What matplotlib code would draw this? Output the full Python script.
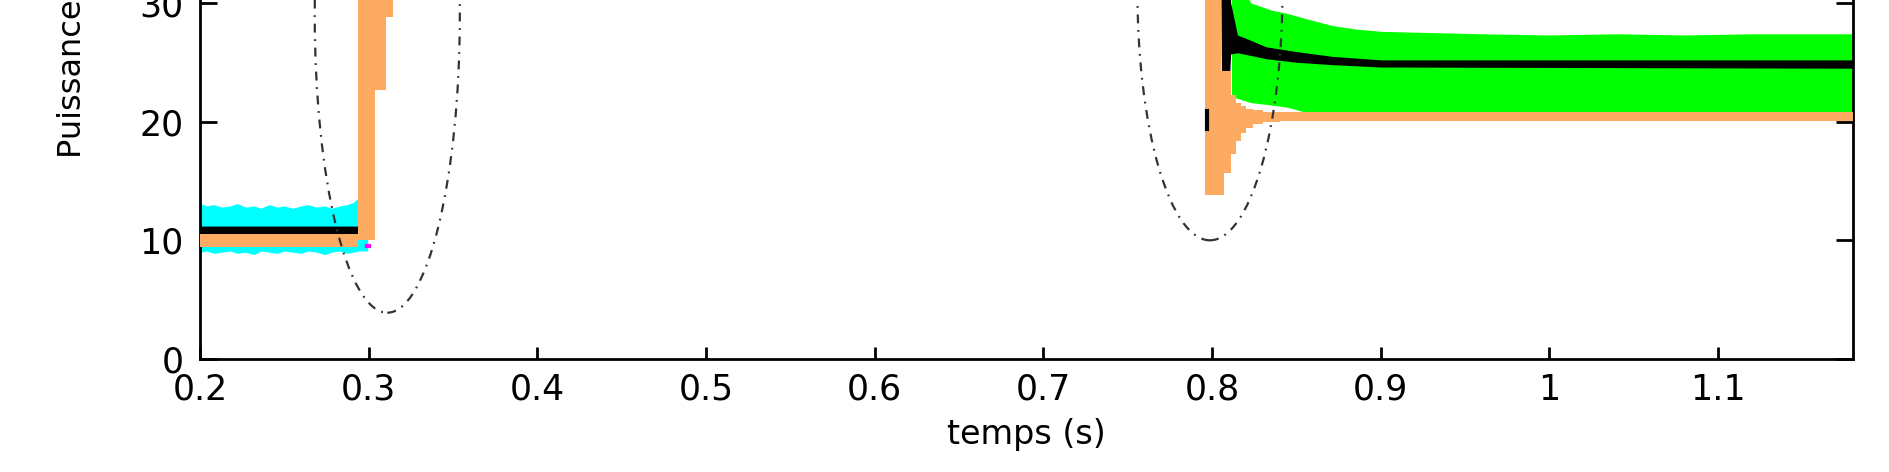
import matplotlib
matplotlib.use("Agg")
import matplotlib.pyplot as plt
from matplotlib.patches import Ellipse

plt.rcParams["font.family"] = ["DejaVu Sans"]

# time axis (s) and power (W) envelopes of the fast-switching signals
cyan_t = [0.200, 0.204, 0.208, 0.213, 0.218, 0.222, 0.227, 0.232, 0.236, 0.241, 0.246,
          0.250, 0.255, 0.260, 0.264, 0.269, 0.274, 0.278, 0.283, 0.287, 0.291, 0.294, 0.2994]
cyan_hi = [13.1, 12.9, 13.0, 12.8, 12.9, 13.1, 12.8, 12.9, 12.7, 13.0, 12.8,
           12.9, 12.7, 12.9, 13.0, 12.8, 12.9, 12.7, 12.9, 13.0, 13.2, 13.6, 13.0]
cyan_lo = [9.0, 9.1, 8.9, 9.0, 9.1, 8.9, 9.0, 8.8, 9.1, 9.0, 8.9,
           9.1, 9.0, 8.9, 9.1, 9.0, 8.8, 9.0, 9.1, 8.9, 9.0, 9.1, 9.1]

green_t = [0.8115, 0.814, 0.823, 0.835, 0.845, 0.855, 0.871, 0.885, 0.901, 0.931,
           0.96, 1.0, 1.04, 1.08, 1.12, 1.18]
green_hi = [38.0, 32.0, 30.0, 29.4, 29.1, 28.7, 28.1, 27.8, 27.6, 27.5,
            27.4, 27.3, 27.4, 27.3, 27.4, 27.4]
green_lo = [22.2, 22.0, 21.6, 21.4, 21.2, 20.8, 20.8, 20.8, 20.8, 20.8,
            20.8, 20.8, 20.8, 20.8, 20.8, 20.8]

black_t = [0.200, 0.294, 0.2945, 0.805, 0.8055, 0.8105, 0.811, 0.815, 0.822, 0.832,
           0.850, 0.871, 0.900, 1.18]
black_lo = [10.5, 10.5, 36.0, 36.0, 24.3, 24.3, 25.7, 25.8, 25.6, 25.3,
            25.0, 24.8, 24.6, 24.5]
black_hi = [11.2, 11.2, 38.0, 38.0, 38.0, 38.0, 30.0, 27.3, 26.9, 26.3,
            25.9, 25.5, 25.2, 25.2]

orange_t = [0.200, 0.2936, 0.3037, 0.3100, 0.3145, 0.796, 0.805, 0.807, 0.811, 0.814,
            0.817, 0.820, 0.824, 0.830, 0.840, 1.18]
orange_lo = [9.4, 10.0, 22.7, 28.8, 36.0, 13.8, 13.8, 15.7, 17.3, 18.4,
             19.0, 19.5, 19.8, 20.0, 20.05, 20.05]
orange_hi = [10.5, 38.0, 38.0, 38.0, 38.0, 38.0, 24.3, 24.3, 22.2, 21.6,
             21.3, 21.1, 20.95, 20.85, 20.8, 20.8]

magenta_t = [0.2990, 0.3002]
magenta_p = [9.55, 9.55]

mark_t = [0.7972, 0.7972]
mark_p = [19.4, 20.9]

fig = plt.figure(figsize=(18.89, 4.72), dpi=100)
# the axes run past the top of the canvas: the original picture is cropped there
ax = fig.add_axes([0.1059, 0.2394, 0.8751, 1.0059])

ax.fill_between(cyan_t, cyan_lo, cyan_hi, color="#00FFFF", lw=0, zorder=1)
ax.fill_between(green_t, green_lo, green_hi, color="#00FF00", lw=0, zorder=2)
ax.fill_between(black_t, black_lo, black_hi, color="black", lw=0, zorder=3)
ax.fill_between(orange_t, orange_lo, orange_hi, step="post", color="#FDAA63", lw=0, zorder=4)
ax.plot(magenta_t, magenta_p, color="#FF00FF", lw=3, zorder=5)
ax.plot(mark_t, mark_p, color="black", lw=3, zorder=5)

for xc, yc, w, h in [(0.311, 28.9, 0.086, 50.0), (0.7987, 31.0, 0.086, 42.0)]:
    ax.add_patch(Ellipse((xc, yc), w, h, fill=False, ec="#333333", lw=1.6,
                         ls=(0, (4, 3, 0.8, 3)), zorder=6))

ax.set_xlim(0.2, 1.18)
ax.set_ylim(0, 40)
ax.set_xticks([0.2, 0.3, 0.4, 0.5, 0.6, 0.7, 0.8, 0.9, 1.0, 1.1])
ax.set_xticklabels(["0.2", "0.3", "0.4", "0.5", "0.6", "0.7", "0.8", "0.9", "1", "1.1"])
ax.set_yticks([0, 10, 20, 30, 40])

for s in ax.spines.values():
    s.set_linewidth(2.0)
ax.tick_params(axis="both", direction="in", top=True, right=True, labelsize=25, width=2.0)
ax.tick_params(axis="x", length=8.5, pad=10)
ax.tick_params(axis="y", length=12, pad=12)

ax.set_xlabel("temps (s)", fontsize=24, labelpad=8)
ax.set_ylabel("Puissance (W)", fontsize=23, ha="left", va="center")
ax.yaxis.set_label_coords(-0.0774, 0.423)

fig.savefig("out.png", dpi=100, facecolor="white")
